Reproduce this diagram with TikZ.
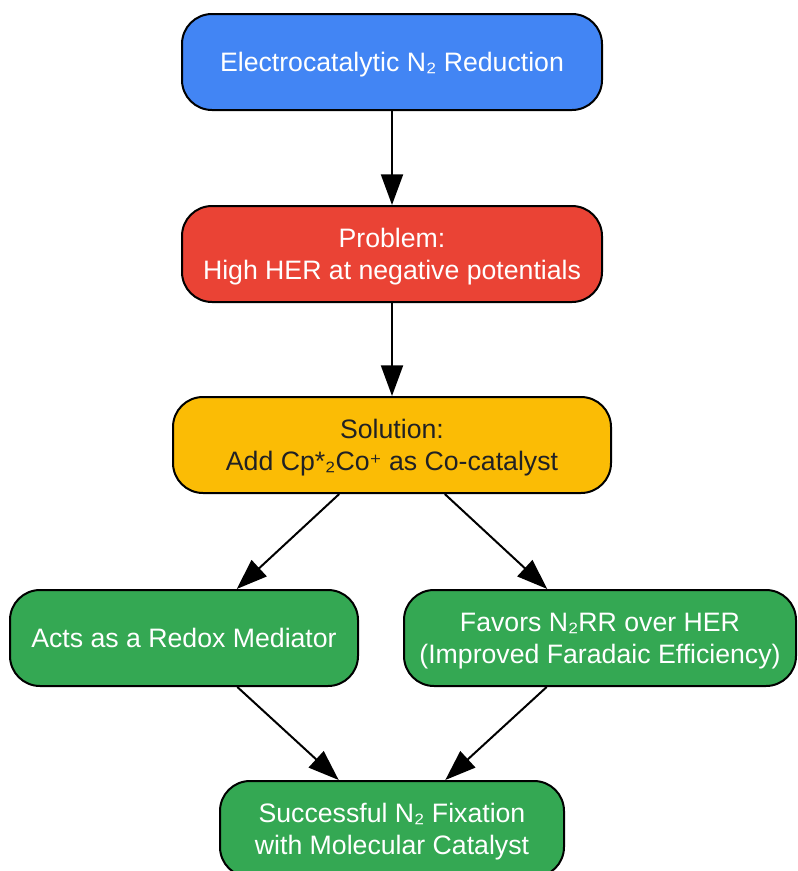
\documentclass[tikz,border=0pt]{standalone}
\usepackage{fontspec}
\setmainfont{Liberation Sans}
\newfontfamily\symfont{DejaVu Sans}
\usetikzlibrary{arrows.meta}

\definecolor{gblue}{HTML}{4285F4}
\definecolor{gred}{HTML}{EA4335}
\definecolor{gyellow}{HTML}{FBBC05}
\definecolor{ggreen}{HTML}{34A853}
\definecolor{darktext}{HTML}{202124}

\begin{document}
\begin{tikzpicture}[x=0.75pt, y=-0.75pt,
  box/.style={draw=black, line width=1.5pt, rounded corners=22.5pt, align=center,
    text=white, font=\fontsize{20}{24}\selectfont, minimum height=72pt, inner sep=0pt,
    text depth=0pt},
  link/.style={line width=1.5pt, -{Triangle[length=23pt, width=16.5pt]}}]
  \useasboundingbox (0, 0) rectangle (797, 871);

  \node[box, fill=gblue, minimum width=315pt] (start) at (392, 62) {Electrocatalytic N₂ Reduction};
  \node[box, fill=gred, minimum width=315pt] (problem) at (392, 254) {Problem:\\High HER at negative potentials};
  \node[box, fill=gyellow, text=darktext, minimum width=328.5pt] (solution) at (392, 445) {Solution:\\Add Cp*₂Co{\symfont\fontsize{17}{24}\selectfont ⁺} as Co-catalyst};
  \node[box, fill=ggreen, minimum width=261pt] (mediator) at (184, 638) {Acts as a Redox Mediator};
  \node[box, fill=ggreen, minimum width=294pt] (favors) at (600, 638) {Favors N₂RR over HER\\(Improved Faradaic Efficiency)};
  \node[box, fill=ggreen, minimum width=258pt] (fixation) at (392, 829) {Successful N₂ Fixation\\with Molecular Catalyst};

  \draw[link] (start) -- (problem);
  \draw[link] (problem) -- (solution);
  \draw[link] (solution) -- (mediator);
  \draw[link] (solution) -- (favors);
  \draw[link] (mediator) -- (fixation);
  \draw[link] (favors) -- (fixation);
\end{tikzpicture}
\end{document}
